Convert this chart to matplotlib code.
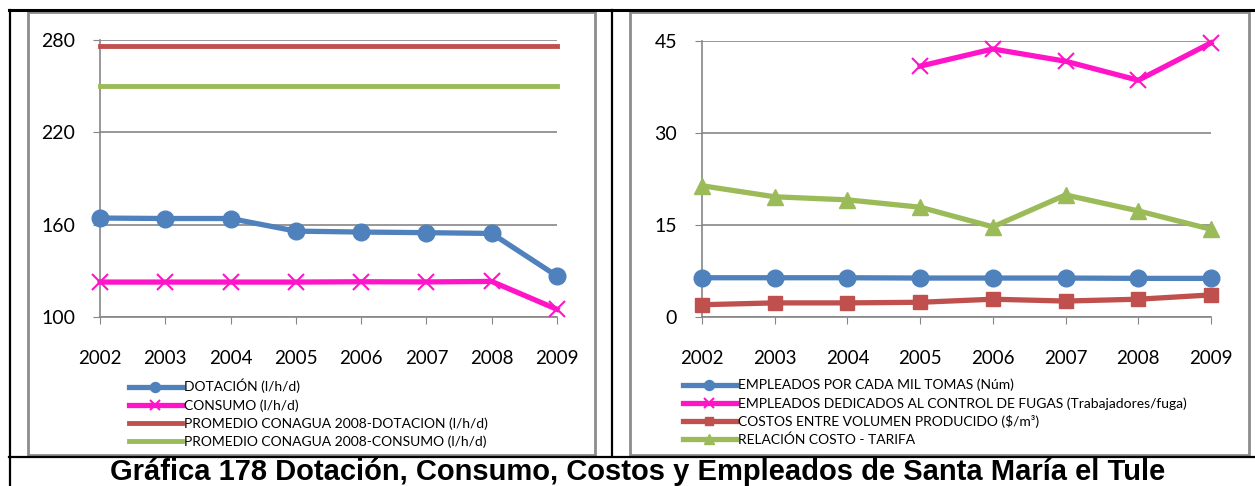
import matplotlib.pyplot as plt
from matplotlib.patches import Rectangle
from matplotlib.lines import Line2D

years = ['2002', '2003', '2004', '2005', '2006', '2007', '2008', '2009']

# left chart (l/h/d)
dotacion = [164.3, 164.0, 164.0, 155.8, 155.2, 154.8, 154.3, 126.6]
consumo = [122.7, 122.7, 122.7, 122.7, 122.9, 122.8, 123.1, 105.0]
prom_dotacion = [276] * 8
prom_consumo = [250] * 8

# right chart
empleados_tomas = [6.4, 6.4, 6.4, 6.35, 6.35, 6.35, 6.3, 6.3]
fugas_years = ['2005', '2006', '2007', '2008', '2009']
empleados_fugas = [40.9, 43.7, 41.7, 38.6, 44.7]
costos_volumen = [2.0, 2.3, 2.3, 2.4, 2.9, 2.6, 2.9, 3.6]
relacion_costo = [21.4, 19.6, 19.1, 17.9, 14.7, 19.9, 17.3, 14.3]

BLUE = '#4F81BD'
PINK = '#FF14C8'
RED = '#C0504D'
GREEN = '#9BBB59'
GRID = '#868686'

W, H = 1255, 486
fig = plt.figure(figsize=(W / 100, H / 100), dpi=100)
plt.rcParams['font.family'] = ['Lato', 'DejaVu Sans']


def fx(px):
    return px / W


def fy(py):
    return 1 - py / H


# table lines and chart frames
fig.add_artist(Line2D([fx(9), fx(1255)], [fy(10), fy(10)], color='black', lw=2.2))
fig.add_artist(Line2D([fx(9.5), fx(9.5)], [fy(10), fy(486)], color='black', lw=1.6))
fig.add_artist(Line2D([fx(611.5), fx(611.5)], [fy(10), fy(456)], color='black', lw=1.6))
fig.add_artist(Line2D([fx(9), fx(1255)], [fy(456.5), fy(456.5)], color='black', lw=1.6))
for x0, x1 in [(28, 595), (630, 1249)]:
    fig.add_artist(Rectangle((fx(x0), fy(455)), fx(x1 - x0), (455 - 12) / H,
                             facecolor='white', edgecolor='#8C8C8C', lw=2, zorder=-10))


def style_axis(ax, ymin, ymax, step):
    x = range(len(years))
    ax.set_xlim(0, len(years) - 1)
    ax.set_ylim(ymin, ymax)
    ax.set_xticks(list(x))
    ax.set_xticklabels(years)
    ax.set_yticks(range(ymin, ymax + 1, step))
    ax.grid(axis='y', color=GRID, lw=1.2)
    ax.set_axisbelow(True)
    for s in ['top', 'right']:
        ax.spines[s].set_visible(False)
    for s in ['left', 'bottom']:
        ax.spines[s].set_color(GRID)
        ax.spines[s].set_linewidth(1.2)
    ax.tick_params(axis='x', length=5, color=GRID, pad=19, labelsize=13.5)
    ax.tick_params(axis='y', length=5, color=GRID, pad=13, labelsize=14)
    ax.patch.set_alpha(0)


# left chart
ax1 = fig.add_axes([fx(100), fy(317), fx(557 - 100), (317 - 40) / H])
style_axis(ax1, 100, 280, 60)
xi = list(range(len(years)))
ax1.plot(xi, dotacion, color=BLUE, lw=3.8, marker='o', ms=12, clip_on=False,
         label='DOTACIÓN (l/h/d)', zorder=4)
ax1.plot(xi, consumo, color=PINK, lw=3.8, marker='x', ms=11, mew=1.5, clip_on=False,
         label='CONSUMO (l/h/d)', zorder=4)
ax1.plot(xi, prom_dotacion, color=RED, lw=3.5, clip_on=False,
         label='PROMEDIO CONAGUA 2008-DOTACION (l/h/d)', zorder=3)
ax1.plot(xi, prom_consumo, color=GREEN, lw=3.5, clip_on=False,
         label='PROMEDIO CONAGUA 2008-CONSUMO (l/h/d)', zorder=3)
ax1.legend(loc='upper left', bbox_to_anchor=(fx(122), fy(372)), bbox_transform=fig.transFigure,
           frameon=False, fontsize=10, handlelength=3.8, labelspacing=0.4,
           handletextpad=0.2, borderpad=0, markerscale=0.6)

# right chart
ax2 = fig.add_axes([fx(702), fy(317), fx(1211 - 702), (317 - 41) / H])
style_axis(ax2, 0, 45, 15)
fi = [years.index(y) for y in fugas_years]
ax2.plot(xi, empleados_tomas, color=BLUE, lw=3.8, marker='o', ms=12, clip_on=False,
         label='EMPLEADOS POR CADA MIL TOMAS (Núm)', zorder=4)
ax2.plot(fi, empleados_fugas, color=PINK, lw=3.8, marker='x', ms=11, mew=1.5, clip_on=False,
         label='EMPLEADOS DEDICADOS AL CONTROL DE FUGAS (Trabajadores/fuga)', zorder=4)
ax2.plot(xi, costos_volumen, color=RED, lw=3.8, marker='s', ms=10.5, clip_on=False,
         label='COSTOS ENTRE VOLUMEN PRODUCIDO ($/m³)', zorder=4)
ax2.plot(xi, relacion_costo, color=GREEN, lw=3.8, marker='^', ms=12, clip_on=False,
         label='RELACIÓN COSTO - TARIFA', zorder=4)
ax2.legend(loc='upper left', bbox_to_anchor=(fx(676), fy(372)), bbox_transform=fig.transFigure,
           frameon=False, fontsize=10, handlelength=3.8, labelspacing=0.4,
           handletextpad=0.2, borderpad=0, markerscale=0.6)

fig.text(fx(638), fy(479.5), 'Gráfica 178 Dotación, Consumo, Costos y Empleados de Santa María el Tule',
         ha='center', va='baseline', fontsize=21, fontweight='bold', family='Liberation Sans')

fig.savefig('out.png', dpi=100)
